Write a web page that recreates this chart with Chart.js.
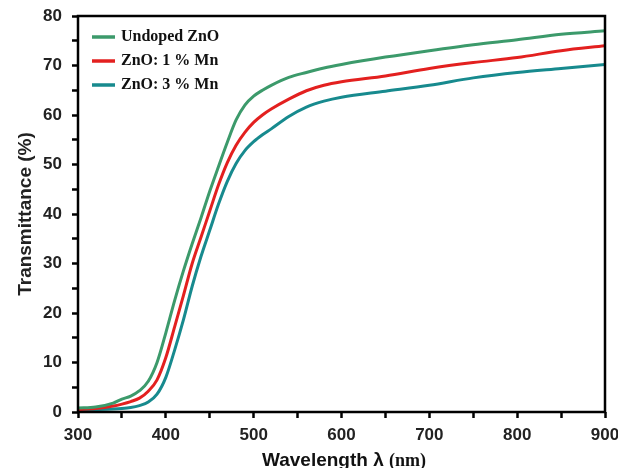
<!DOCTYPE html>
<html>
<head>
<meta charset="utf-8">
<script src="https://cdn.jsdelivr.net/npm/chart.js@4/dist/chart.umd.min.js"></script>
<style>
  html, body { margin: 0; padding: 0; background: #fff; }
  #wrap { width: 618px; height: 468px; }
</style>
</head>
<body>
<div id="wrap"><canvas id="trans" width="618" height="468"></canvas></div>
<script>
// wavelength (nm)
var wavelengths = [300, 320, 340, 350, 360, 370, 380, 390, 400, 410, 420, 430, 440, 450, 460,
                   470, 480, 490, 500, 510, 520, 540, 560, 580, 600, 650, 700, 750, 800, 850, 900];
// transmittance (%) for each sample
var undopedZnO = [0.8, 1.0, 1.8, 2.6, 3.2, 4.3, 6.2, 10, 16.0, 22.5, 28.5, 34.0, 39.2, 44.6, 49.6,
                  54.5, 59.0, 62.0, 63.8, 65.0, 66.0, 67.6, 68.6, 69.5, 70.2, 71.7, 73.0, 74.2, 75.2, 76.3, 77.0];
var mn1 = [0.5, 0.7, 1.2, 1.6, 2.1, 2.8, 4.2, 6.5, 11.0, 17.2, 23.5, 30.0, 35.3, 40.6, 45.9,
           50.4, 53.9, 56.5, 58.5, 60.0, 61.2, 63.2, 64.9, 66.0, 66.7, 67.9, 69.4, 70.6, 71.6, 73.0, 74.0];
var mn3 = [0.5, 0.5, 0.6, 0.7, 0.9, 1.3, 2.0, 3.6, 7.0, 12.5, 18.6, 25.4, 31.4, 36.7, 42.0,
           46.6, 50.2, 52.8, 54.6, 56.0, 57.2, 59.7, 61.6, 62.8, 63.6, 64.8, 66.0, 67.5, 68.6, 69.4, 70.2];

var seriesLabels = ["Undoped ZnO", "ZnO: 1 % Mn", "ZnO: 3 % Mn"];
var seriesColors = ["#3c9a6b", "#e3201f", "#178a8e"];
var xTicks = [300, 400, 500, 600, 700, 800, 900];
var yTicks = [0, 10, 20, 30, 40, 50, 60, 70, 80];

function toPoints(values) {
    return values.map(function (v, i) { return { x: wavelengths[i], y: v }; });
}

//frame round the plot, legend inside, and the mixed-font x title
var decorPlugin = {
    id: "decor",
    afterDraw: function (chart) {
        var ctx = chart.ctx;
        var a = chart.chartArea;
        ctx.save();
        ctx.strokeStyle = "#000";
        ctx.lineWidth = 2.5;
        ctx.strokeRect(a.left, a.top, a.right - a.left, a.bottom - a.top);

        //legend
        ctx.font = "bold 16px 'Liberation Serif'";
        ctx.textBaseline = "middle";
        ctx.fillStyle = "#111";
        for (var i = 0; i < seriesLabels.length; i++) {
            var y = 37 + i * 24;
            ctx.strokeStyle = seriesColors[i];
            ctx.lineWidth = 3.5;
            ctx.beginPath();
            ctx.moveTo(a.left + 14, y);
            ctx.lineTo(a.left + 37, y);
            ctx.stroke();
            ctx.fillText(seriesLabels[i], a.left + 43, y);
        }

        //x axis title
        ctx.textBaseline = "alphabetic";
        ctx.font = "bold 19px 'Liberation Sans'";
        var part1 = "Wavelength \u03bb ";
        var w1 = ctx.measureText(part1).width;
        ctx.font = "bold 18px 'Liberation Serif'";
        var w2 = ctx.measureText("(nm)").width;
        var x0 = 344 - (w1 + w2) / 2;
        ctx.font = "bold 19px 'Liberation Sans'";
        ctx.fillText(part1, x0, 466);
        ctx.font = "bold 18px 'Liberation Serif'";
        ctx.fillText("(nm)", x0 + w1, 466);
        ctx.restore();
    }
};

var datasets = [undopedZnO, mn1, mn3].map(function (vals, i) {
    return {
        label: seriesLabels[i],
        data: toPoints(vals),
        borderColor: seriesColors[i],
        borderWidth: 3,
        pointRadius: 0,
        fill: false,
        cubicInterpolationMode: "monotone"
    };
});

var tickFont = { family: "'Liberation Sans'", size: 17, weight: "bold" };

new Chart(document.getElementById("trans").getContext("2d"), {
    type: "line",
    data: { datasets: datasets },
    options: {
        responsive: false,
        animation: false,
        layout: { padding: { top: 6, right: 0, left: 0, bottom: 0 } },
        plugins: {
            legend: { display: false },
            tooltip: { enabled: false }
        },
        scales: {
            x: {
                type: "linear",
                min: 300,
                max: 900,
                afterFit: function (s) { s.height = 56; s.paddingRight = 13; },
                afterBuildTicks: function (s) {
                    s.ticks = [];
                    for (var v = xTicks[0]; v <= xTicks[xTicks.length - 1]; v += 50) s.ticks.push({ value: v });
                },
                grid: { drawOnChartArea: false, tickLength: 6, tickWidth: 2.5, tickColor: "#000" },
                border: { display: false },
                ticks: {
                    font: tickFont,
                    color: "#222",
                    padding: 7,
                    maxRotation: 0,
                    autoSkip: false,
                    callback: function (v) { return xTicks.indexOf(v) >= 0 ? String(v) : ""; }
                }
            },
            y: {
                min: 0,
                max: 80,
                afterFit: function (s) { s.width = 78; s.paddingTop = 16; },
                afterBuildTicks: function (s) {
                    s.ticks = [];
                    for (var v = yTicks[0]; v <= yTicks[yTicks.length - 1]; v += 5) s.ticks.push({ value: v });
                },
                grid: { drawOnChartArea: false, tickLength: 6, tickWidth: 2.5, tickColor: "#000" },
                border: { display: false },
                ticks: {
                    font: tickFont,
                    color: "#222",
                    padding: 10,
                    autoSkip: false,
                    callback: function (v) { return yTicks.indexOf(v) >= 0 ? String(v) : ""; }
                },
                title: {
                    display: true,
                    text: "Transmittance (%)",
                    color: "#222",
                    font: { family: "'Liberation Sans'", size: 19, weight: "bold" },
                    padding: { top: 14, bottom: 0 }
                }
            }
        }
    },
    plugins: [decorPlugin]
});
</script>
</body>
</html>
